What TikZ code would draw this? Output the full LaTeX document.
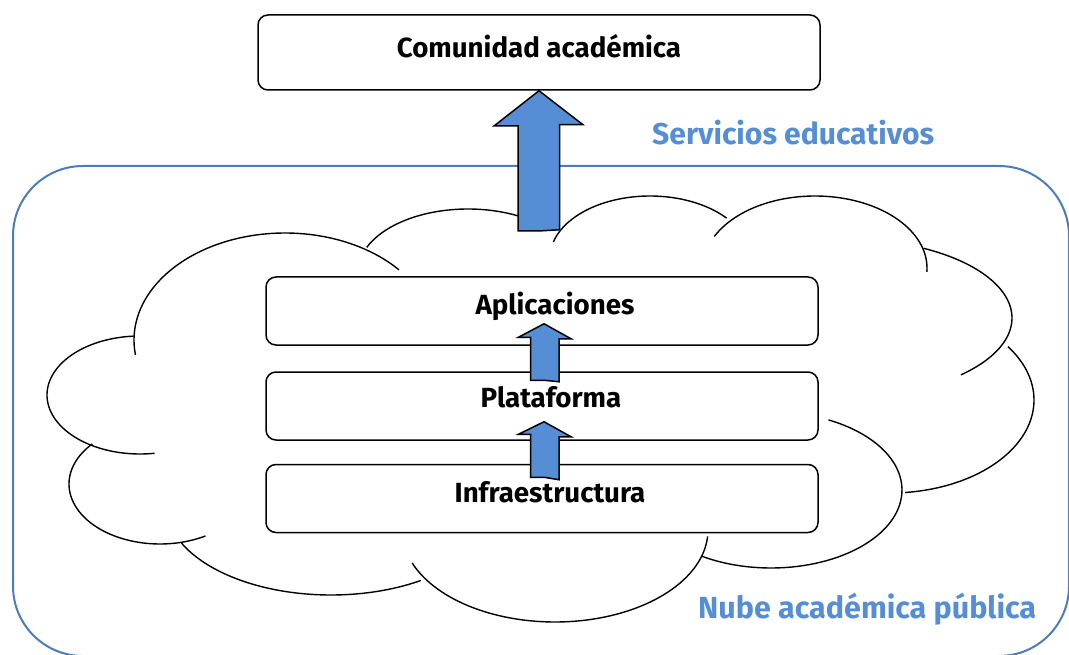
\documentclass[tikz,border=0pt]{standalone}
\usepackage{fontspec}
\setmainfont{Fira Sans}
\usetikzlibrary{calc}
\definecolor{arrowblue}{HTML}{558ED5}
\definecolor{textblue}{HTML}{558ED5}
\definecolor{frameblue}{HTML}{4A7DBA}
\newcommand{\lobe}[6]{\draw[cloudline] plot[domain=#5:#6, samples=60, smooth] ({#1+#3*cos(\x)},{#2+#4*sin(\x)});}
\tikzset{
  layerbox/.style={draw=black, line width=1.5pt, rounded corners=10pt, fill=white,
    minimum width=552pt, minimum height=68pt, inner sep=0pt,
    font=\fontsize{27.7}{30}\selectfont\bfseries},
  cloudline/.style={draw=black, line width=1.4pt},
  blockarrow/.style={draw=black, line width=1.5pt, fill=arrowblue, line join=miter},
  bluelabel/.style={text=textblue, inner sep=0pt},
}
\begin{document}
\begin{tikzpicture}[x=1pt,y=-1pt]
\useasboundingbox (0,0) rectangle (1069,655);
% outer frame
\draw[frameblue, line width=2pt, rounded corners=70pt] (13,166) rectangle (1069,656);
% cloud lobes (elliptical arcs)
\lobe{285}{340}{151}{107}{172}{319}
\lobe{468}{272}{110}{63}{203}{300}
\lobe{650}{258}{100}{62}{195}{320}
\lobe{815}{268}{112}{72}{206}{363}
\lobe{845}{318}{167}{79}{298}{406}
\lobe{890}{400}{144}{93}{-35}{84}
\lobe{771}{490}{131}{78}{-64}{122}
\lobe{555}{530}{153}{92}{4}{159}
\lobe{331}{505}{165}{90}{57}{155}
\lobe{160}{484}{91}{60}{60}{222}
\lobe{140}{395}{93}{59}{81}{266}
% layer boxes
\node[layerbox, text height=19pt, text depth=11pt] (app) at (542,311) {\hspace*{26pt}Aplicaciones};
\node[layerbox, text height=19pt, text depth=17pt] (pla) at (542,406) {\hspace*{18pt}Plataforma};
\node[layerbox, text height=19pt, text depth=12pt] (inf) at (542,498.5) {\hspace*{16pt}Infraestructura};
% top box
\node[layerbox, minimum width=562pt, minimum height=75pt, text height=19pt, text depth=8pt] (com) at (539,52.5) {Comunidad académica};
% small arrows
\draw[blockarrow] ($(pla.north)+(2,9)$) -- ++(-13.5,0) -- ++(0,-43) -- ++(-12,0) -- ($(app.south)+(2,-22)$) -- ++(27,15) -- ++(-12,0) -- ++(0,43) -- cycle;
\draw[blockarrow] ($(inf.north)+(2,13.5)$) -- ++(-13.5,0) -- ++(0,-43) -- ++(-12,0) -- ($(pla.south)+(2,-19)$) -- ++(27,15) -- ++(-12,0) -- ++(0,43) -- cycle;
% big arrow
\coordinate (bigbase) at (538.5,231);
\draw[blockarrow] (bigbase) -- ++(-20.5,0) -- ++(0,-105) -- ++(-24,0) -- (com.south) -- ++(44,34) -- ++(-23.5,0) -- ++(0,105) -- cycle;
% labels
\node[bluelabel, font=\fontsize{30.1}{33}\selectfont\bfseries, anchor=base west] (serv) at (652,145) {Servicios educativos};
\node[bluelabel, font=\fontsize{30.5}{33}\selectfont\bfseries, anchor=base west] (nube) at (698,618) {Nube académica pública};
\end{tikzpicture}
\end{document}
